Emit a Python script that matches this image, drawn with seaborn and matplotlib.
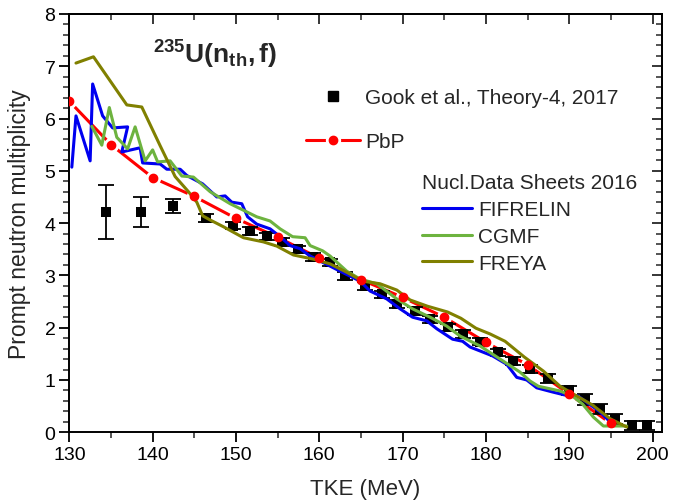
import matplotlib
matplotlib.use("Agg")
import matplotlib.pyplot as plt
import seaborn as sns
from matplotlib.lines import Line2D
from matplotlib.ticker import MultipleLocator

sns.set_style("ticks")
plt.rcParams["font.family"] = ["Liberation Sans", "DejaVu Sans"]
plt.rcParams["mathtext.fontset"] = "custom"
plt.rcParams["mathtext.rm"] = "Liberation Sans"
plt.rcParams["mathtext.bf"] = "Liberation Sans:bold"
plt.rcParams["mathtext.it"] = "Liberation Sans:italic"

# Gook et al., Theory-4, 2017: TKE (MeV), multiplicity, uncertainty
gook_tke = [134.4, 138.6, 142.4, 146.4, 149.6, 151.7, 153.7, 155.5, 157.4, 159.2,
            161.3, 163.1, 165.5, 167.5, 169.3, 171.5, 173.3, 175.4, 177.2, 179.3,
            181.4, 183.2, 185.3, 187.4, 190.0, 191.9, 193.7, 195.5, 197.5, 199.3]
gook_nu = [4.21, 4.21, 4.33, 4.10, 3.95, 3.85, 3.75, 3.64, 3.50, 3.35,
           3.25, 2.99, 2.80, 2.64, 2.45, 2.32, 2.16, 2.01, 1.88, 1.73,
           1.53, 1.36, 1.21, 1.03, 0.80, 0.63, 0.44, 0.25, 0.13, 0.13]
gook_err = [0.52, 0.28, 0.14, 0.07, 0.07, 0.07, 0.07, 0.07, 0.07, 0.07,
            0.07, 0.07, 0.07, 0.07, 0.07, 0.07, 0.07, 0.07, 0.07, 0.07,
            0.07, 0.07, 0.08, 0.08, 0.09, 0.10, 0.10, 0.10, 0.08, 0.08]

# Point-by-point model
pbp_tke = [130, 135, 140, 145, 150, 155, 160, 165, 170, 175, 180, 185, 190, 195]
pbp_nu = [6.33, 5.50, 4.87, 4.51, 4.09, 3.73, 3.33, 2.92, 2.58, 2.20, 1.72, 1.29, 0.73, 0.17]

# Nucl. Data Sheets 2016 calculations
fifrelin_tke = [130.3, 130.8, 132.5, 132.8, 134.0, 135.2, 137.0, 136.3, 138.5, 138.8,
                140.9, 141.7, 143.3, 144.1, 146.0, 147.7, 148.7, 149.5, 150.7, 151.4,
                152.5, 154.1, 155.3, 156.5, 157.7, 158.9, 160.4, 162.5, 164.9, 166.1,
                168.1, 169.7, 171.2, 172.9, 174.1, 176.0, 177.2, 178.1, 180.8, 182.5,
                183.7, 184.9, 186.1, 188.0, 189.8, 191.0, 193.7, 194.9]
fifrelin_nu = [5.07, 6.05, 5.19, 6.66, 6.05, 5.82, 5.84, 5.36, 5.44, 5.15,
               5.13, 5.03, 5.03, 4.91, 4.75, 4.50, 4.52, 4.40, 4.37, 4.12,
               3.98, 3.89, 3.74, 3.57, 3.51, 3.37, 3.25, 3.08, 2.89, 2.70,
               2.55, 2.36, 2.20, 2.13, 1.98, 1.78, 1.74, 1.63, 1.46, 1.30,
               1.05, 1.00, 0.85, 0.77, 0.70, 0.70, 0.39, 0.20]

cgmf_tke = [132.7, 133.9, 134.8, 135.7, 137.0, 137.9, 139.1, 140.0, 140.6, 142.1,
            143.5, 144.9, 146.9, 149.3, 151.1, 152.5, 154.1, 155.3, 156.8, 158.3,
            158.9, 160.4, 161.3, 163.3, 164.9, 166.9, 169.3, 171.2, 173.3, 175.3,
            176.9, 179.3, 181.7, 184.1, 185.3, 186.3, 188.9, 190.4, 191.6, 192.9,
            194.1, 196.9]
cgmf_nu = [5.85, 5.49, 6.21, 5.64, 5.42, 5.84, 5.19, 5.40, 5.17, 5.19,
           4.90, 4.88, 4.60, 4.37, 4.23, 4.12, 4.04, 3.89, 3.74, 3.72,
           3.57, 3.47, 3.37, 3.08, 2.93, 2.84, 2.55, 2.36, 2.20, 2.03,
           1.84, 1.65, 1.40, 1.15, 0.98, 0.88, 0.79, 0.69, 0.54, 0.29,
           0.12, 0.12]

freya_tke = [130.8, 132.9, 136.9, 138.7, 140.9, 142.7, 144.3, 145.3, 146.0, 146.9,
             148.5, 150.9, 153.3, 154.9, 156.9, 159.3, 161.3, 163.3, 165.2, 167.3,
             169.3, 170.9, 173.0, 175.4, 177.0, 178.8, 180.5, 182.3, 184.6, 186.9,
             188.9, 190.3, 192.8, 194.9, 196.9]
freya_nu = [7.06, 7.18, 6.26, 6.22, 5.48, 4.89, 4.60, 4.40, 4.14, 4.06,
            3.93, 3.72, 3.64, 3.56, 3.39, 3.31, 3.22, 3.06, 2.89, 2.84,
            2.72, 2.53, 2.41, 2.30, 2.18, 1.99, 1.88, 1.74, 1.44, 1.17,
            0.88, 0.75, 0.52, 0.26, 0.10]

C_FIF = "#0000F0"
C_CGMF = "#6DB33F"
C_FREYA = "#808000"
C_PBP = "#FF0000"
LW = 2.2

fig = plt.figure(figsize=(6.89, 5.02), dpi=100)
ax = fig.add_axes([0.1006, 0.1369, 0.8598, 0.8334])

# PbP line with small gaps around its symbols (drawn beneath the other curves)
sns.lineplot(x=pbp_tke, y=pbp_nu, sort=False, estimator=None, color=C_PBP,
             linewidth=LW, ax=ax, zorder=1.5)
ax.plot(pbp_tke, pbp_nu, ls="none", marker="o", ms=10, mfc="white",
        mec="white", zorder=1.6)

# experimental points with error bars
ax.errorbar(gook_tke, gook_nu, yerr=gook_err, fmt="none", ecolor="black",
            elinewidth=1.3, capsize=6, capthick=1.3, zorder=2)
sns.scatterplot(x=gook_tke, y=gook_nu, marker="s", s=55, color="black",
                edgecolor="black", linewidth=0, ax=ax, zorder=3)

# model curves
for xs, ys, col in [(fifrelin_tke, fifrelin_nu, C_FIF),
                    (cgmf_tke, cgmf_nu, C_CGMF),
                    (freya_tke, freya_nu, C_FREYA)]:
    sns.lineplot(x=xs, y=ys, sort=False, estimator=None, color=col,
                 linewidth=LW, ax=ax, zorder=4)

ax.plot(pbp_tke, pbp_nu, ls="none", marker="o", ms=6, mfc=C_PBP,
        mec=C_PBP, zorder=6)

ax.set_xlim(130, 201.1)
ax.set_ylim(0, 8)
ax.xaxis.set_major_locator(MultipleLocator(10))
ax.xaxis.set_minor_locator(MultipleLocator(5))
ax.yaxis.set_major_locator(MultipleLocator(1))
ax.yaxis.set_minor_locator(MultipleLocator(0.2))
ax.tick_params(which="major", direction="out", length=7, width=1.3,
               labelsize=14, pad=3, colors="black")
ax.tick_params(which="minor", direction="out", length=4, width=1.1)
for sp in ax.spines.values():
    sp.set_visible(True)
    sp.set_linewidth(1.4)
    sp.set_color("black")

# mirrored inward ticks on top and right
top = ax.secondary_xaxis("top")
top.xaxis.set_major_locator(MultipleLocator(10))
top.xaxis.set_minor_locator(MultipleLocator(5))
top.tick_params(which="major", direction="in", length=7, width=1.3, labeltop=False)
top.tick_params(which="minor", direction="in", length=4, width=1.1)
right = ax.secondary_yaxis("right")
right.yaxis.set_major_locator(MultipleLocator(1))
right.yaxis.set_minor_locator(MultipleLocator(0.2))
right.tick_params(which="major", direction="in", length=7, width=1.3, labelright=False)
right.tick_params(which="minor", direction="in", length=4, width=1.1)
for sec in (top, right):
    for sp in sec.spines.values():
        sp.set_linewidth(1.4)

ax.set_xlabel("TKE (MeV)", fontsize=16, labelpad=11)
ax.set_ylabel("Prompt neutron multiplicity", fontsize=16.5, labelpad=10)

fig.text(215 / 689, 1 - 55 / 502,
         r"$^{\mathbf{235}}\mathbf{U(n_{th},f)}$",
         fontsize=19, ha="center", va="center")

# legends
h_gook = Line2D([], [], ls="none", marker="s", color="black", ms=6.5)
h_pbp = (Line2D([], [], color=C_PBP, lw=LW),
         Line2D([], [], ls="none", marker="o", ms=10, mfc="white", mec="white"),
         Line2D([], [], ls="none", marker="o", ms=6, mfc=C_PBP, mec=C_PBP))
leg1 = fig.legend([h_gook, h_pbp], ["Gook et al., Theory-4, 2017", "PbP"],
                  loc="upper left", bbox_to_anchor=(306 / 689, 1 - 89 / 502),
                  frameon=False, fontsize=15, handlelength=2.6,
                  handletextpad=0.25, labelspacing=1.2, borderpad=0,
                  borderaxespad=0)

h_lines = [Line2D([], [], color=c, lw=LW) for c in (C_FIF, C_CGMF, C_FREYA)]
leg2 = fig.legend(h_lines, ["FIFRELIN", "CGMF", "FREYA"],
                  title="Nucl.Data Sheets 2016", title_fontsize=15,
                  alignment="left", loc="upper left",
                  bbox_to_anchor=(422 / 689, 1 - 174 / 502),
                  frameon=False, fontsize=15, handlelength=2.4,
                  handletextpad=0.3, labelspacing=0.38, borderpad=0,
                  borderaxespad=0)

fig.savefig("out.png", dpi=100)
